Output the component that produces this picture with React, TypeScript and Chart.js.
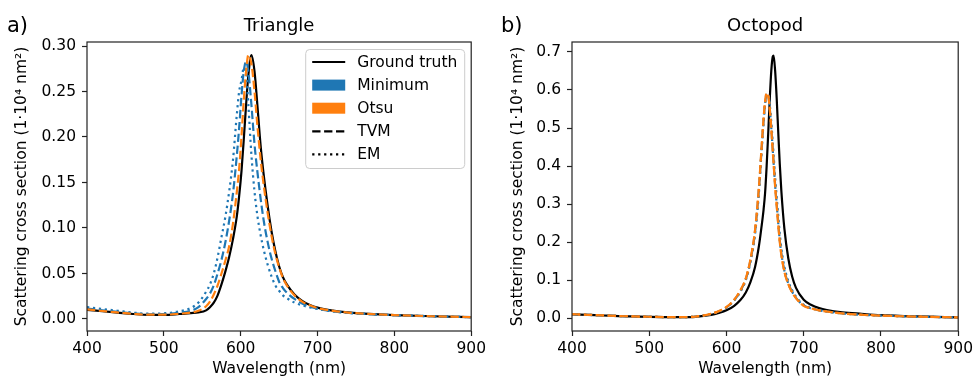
import React, { useEffect, useRef } from 'react';
import Chart from 'chart.js/auto';

// ---------- data ----------
const triWavelength = [400, 420, 440, 460, 480, 500, 520, 535, 545, 555, 560, 565, 570, 575, 580, 585, 590, 595, 598, 601, 604, 607, 610, 614, 618, 622, 626, 630, 635, 640, 645, 650, 655, 660, 670, 680, 690, 700, 720, 740, 760, 780, 800, 850, 900];
const triGroundTruth = [0.010, 0.0085, 0.007, 0.0055, 0.0045, 0.0045, 0.0055, 0.0065, 0.0072, 0.0095, 0.013, 0.018, 0.026, 0.038, 0.052, 0.068, 0.088, 0.113, 0.135, 0.162, 0.197, 0.235, 0.268, 0.29, 0.272, 0.232, 0.19, 0.158, 0.125, 0.097, 0.075, 0.058, 0.046, 0.038, 0.027, 0.02, 0.0155, 0.0125, 0.0092, 0.0072, 0.006, 0.005, 0.0043, 0.003, 0.002];
const triMinimumTVM = [0.0115, 0.0095, 0.0078, 0.0062, 0.0052, 0.0055, 0.007, 0.009, 0.013, 0.022, 0.028, 0.037, 0.05, 0.065, 0.084, 0.108, 0.138, 0.18, 0.21, 0.245, 0.272, 0.283, 0.272, 0.235, 0.192, 0.16, 0.132, 0.108, 0.085, 0.067, 0.053, 0.041, 0.034, 0.029, 0.022, 0.017, 0.0135, 0.0112, 0.0085, 0.0068, 0.0057, 0.0048, 0.0042, 0.003, 0.002];
const triMinimumEM = [0.013, 0.011, 0.009, 0.007, 0.0058, 0.0062, 0.0085, 0.012, 0.018, 0.03, 0.038, 0.05, 0.068, 0.09, 0.112, 0.14, 0.175, 0.225, 0.25, 0.262, 0.276, 0.272, 0.235, 0.18, 0.14, 0.112, 0.092, 0.076, 0.06, 0.047, 0.037, 0.031, 0.026, 0.023, 0.018, 0.015, 0.0128, 0.011, 0.0083, 0.0066, 0.0056, 0.0048, 0.0042, 0.003, 0.002];
const triOtsuTVM = [0.0105, 0.0088, 0.0072, 0.0057, 0.0047, 0.0047, 0.0058, 0.007, 0.009, 0.014, 0.019, 0.027, 0.037, 0.05, 0.064, 0.08, 0.105, 0.14, 0.165, 0.2, 0.24, 0.272, 0.29, 0.28, 0.25, 0.21, 0.175, 0.147, 0.117, 0.092, 0.072, 0.057, 0.045, 0.037, 0.026, 0.019, 0.015, 0.012, 0.009, 0.007, 0.0059, 0.005, 0.0043, 0.003, 0.002];

const octWavelength = [400, 420, 440, 460, 480, 500, 520, 540, 560, 580, 590, 600, 610, 618, 625, 631, 637, 642, 645, 648, 650, 652, 654, 656, 658, 660, 661, 663, 665, 667, 669, 671, 675, 680, 685, 690, 700, 710, 720, 730, 750, 775, 800, 850, 900];
const octGroundTruth = [0.0105, 0.009, 0.0075, 0.006, 0.005, 0.004, 0.0033, 0.003, 0.004, 0.009, 0.014, 0.021, 0.033, 0.048, 0.068, 0.095, 0.135, 0.19, 0.235, 0.285, 0.33, 0.40, 0.485, 0.575, 0.65, 0.688, 0.69, 0.65, 0.578, 0.49, 0.405, 0.336, 0.235, 0.158, 0.11, 0.08, 0.049, 0.035, 0.027, 0.022, 0.016, 0.012, 0.0086, 0.005, 0.0026];
const octMinimumTVM = [0.011, 0.0094, 0.0078, 0.0063, 0.0052, 0.0042, 0.0034, 0.0031, 0.0047, 0.0115, 0.0185, 0.029, 0.048, 0.072, 0.103, 0.152, 0.228, 0.34, 0.43, 0.518, 0.565, 0.588, 0.585, 0.553, 0.5, 0.44, 0.41, 0.35, 0.3, 0.25, 0.205, 0.171, 0.125, 0.092, 0.07, 0.054, 0.034, 0.026, 0.021, 0.018, 0.013, 0.0095, 0.0072, 0.0045, 0.0025];
const octMinimumEM = [0.0108, 0.0092, 0.0077, 0.0062, 0.0051, 0.0041, 0.0034, 0.0031, 0.0046, 0.011, 0.018, 0.028, 0.047, 0.07, 0.1, 0.148, 0.222, 0.33, 0.425, 0.515, 0.565, 0.59, 0.588, 0.562, 0.515, 0.46, 0.43, 0.37, 0.318, 0.27, 0.222, 0.185, 0.135, 0.098, 0.074, 0.057, 0.036, 0.027, 0.022, 0.018, 0.013, 0.0097, 0.0073, 0.0046, 0.0025];
const octOtsuTVM = [0.011, 0.0094, 0.0078, 0.0063, 0.0052, 0.0042, 0.0034, 0.0031, 0.0048, 0.012, 0.019, 0.03, 0.049, 0.074, 0.105, 0.155, 0.233, 0.345, 0.436, 0.525, 0.57, 0.592, 0.585, 0.55, 0.497, 0.436, 0.406, 0.345, 0.295, 0.245, 0.2, 0.167, 0.122, 0.09, 0.068, 0.053, 0.033, 0.026, 0.021, 0.018, 0.013, 0.0095, 0.0072, 0.0045, 0.0025];
const octOtsuEM = [0.0108, 0.0093, 0.0077, 0.0062, 0.0051, 0.0041, 0.0034, 0.0031, 0.0047, 0.0118, 0.0188, 0.0295, 0.0485, 0.073, 0.104, 0.153, 0.23, 0.34, 0.432, 0.522, 0.568, 0.59, 0.586, 0.553, 0.5, 0.44, 0.41, 0.35, 0.3, 0.25, 0.204, 0.17, 0.124, 0.091, 0.069, 0.054, 0.0335, 0.026, 0.021, 0.018, 0.013, 0.0095, 0.0072, 0.0045, 0.0025];

const xTicks = [400, 500, 600, 700, 800, 900];
const triYTicks = [0, 0.05, 0.1, 0.15, 0.2, 0.25, 0.3];
const octYTicks = [0, 0.1, 0.2, 0.3, 0.4, 0.5, 0.6, 0.7];

const legendLabels = ['Ground truth', 'Minimum', 'Otsu', 'TVM', 'EM'];

// ---------- style ----------
const BLUE = '#1f77b4';
const ORANGE = '#ff7f0e';
const FONT = "'DejaVu Sans', 'Noto Sans', sans-serif";
const FS = 15.5;
const SOLID: number[] = [];
const DASH = [8.3, 3.6];
const DOT = [2.25, 3.7];
const LW = 2.2;

type Series = { label: string; data: number[]; color: string; dash: number[]; order: number };

type PanelCfg = {
  title: string;
  letter: string;
  letterX: number;
  wavelength: number[];
  series: Series[];
  yMin: number;
  yMax: number;
  yTicks: number[];
  decimals: number;
  yAxisWidth: number;
  yTitlePad: number;
  padRight: number;
  legend: boolean;
  canvasWidth: number;
};

const framePlugin = {
  id: 'frame',
  afterDatasetsDraw(chart: any) {
    const { left, top, right, bottom } = chart.chartArea;
    const ctx = chart.ctx;
    ctx.save();
    ctx.strokeStyle = '#222';
    ctx.lineWidth = 1.2;
    ctx.strokeRect(left, top, right - left, bottom - top);
    ctx.restore();
  },
};

function makeTitlePlugin(cfg: PanelCfg) {
  return {
    id: 'panelTitle',
    afterDraw(chart: any) {
      const { left, right } = chart.chartArea;
      const ctx = chart.ctx;
      ctx.save();
      ctx.fillStyle = '#000';
      ctx.textBaseline = 'alphabetic';
      ctx.textAlign = 'center';
      ctx.font = `18px ${FONT}`;
      ctx.fillText(cfg.title, (left + right) / 2, 31);
      ctx.textAlign = 'left';
      ctx.font = `21px ${FONT}`;
      ctx.fillText(cfg.letter, cfg.letterX, 31.5);
      ctx.restore();
    },
  };
}

const legendPlugin = {
  id: 'customLegend',
  afterDraw(chart: any) {
    const { right, top } = chart.chartArea;
    const ctx = chart.ctx;
    const w = 159;
    const h = 119;
    const x0 = right - 7 - w;
    const y0 = top + 7;
    ctx.save();
    ctx.beginPath();
    ctx.roundRect(x0 + 0.5, y0 + 0.5, w, h, 4);
    ctx.fillStyle = 'rgba(255,255,255,0.8)';
    ctx.fill();
    ctx.strokeStyle = '#cccccc';
    ctx.lineWidth = 1;
    ctx.stroke();

    const hx0 = x0 + 7;
    const hx1 = x0 + 40;
    const tx = x0 + 52;
    const step = 23.1;
    const ys = legendLabels.map((_, i) => y0 + 13 + i * step);
    ctx.lineCap = 'butt';
    // Ground truth
    ctx.strokeStyle = '#000';
    ctx.lineWidth = LW;
    ctx.setLineDash(SOLID);
    ctx.beginPath();
    ctx.moveTo(hx0, ys[0]);
    ctx.lineTo(hx1, ys[0]);
    ctx.stroke();
    // patches
    ctx.fillStyle = BLUE;
    ctx.fillRect(hx0, ys[1] - 5.5, hx1 - hx0, 11);
    ctx.fillStyle = ORANGE;
    ctx.fillRect(hx0, ys[2] - 5.5, hx1 - hx0, 11);
    // TVM
    ctx.strokeStyle = '#000';
    ctx.setLineDash(DASH);
    ctx.beginPath();
    ctx.moveTo(hx0, ys[3]);
    ctx.lineTo(hx1, ys[3]);
    ctx.stroke();
    // EM
    ctx.setLineDash(DOT);
    ctx.beginPath();
    ctx.moveTo(hx0, ys[4]);
    ctx.lineTo(hx1, ys[4]);
    ctx.stroke();
    ctx.setLineDash([]);

    ctx.fillStyle = '#000';
    ctx.font = `${FS}px ${FONT}`;
    ctx.textBaseline = 'middle';
    ctx.textAlign = 'left';
    legendLabels.forEach((t, i) => ctx.fillText(t, tx, ys[i] + 1));
    ctx.restore();
  },
};

function buildConfig(cfg: PanelCfg): any {
  const datasets = cfg.series.map((s) => ({
    label: s.label,
    data: cfg.wavelength.map((x, i) => ({ x, y: s.data[i] })),
    borderColor: s.color,
    backgroundColor: s.color,
    borderWidth: LW,
    borderDash: s.dash,
    borderCapStyle: 'butt',
    pointRadius: 0,
    fill: false,
    cubicInterpolationMode: 'monotone',
    order: s.order,
  }));
  const plugins: any[] = [framePlugin, makeTitlePlugin(cfg)];
  if (cfg.legend) plugins.push(legendPlugin);
  return {
    type: 'line',
    data: { datasets },
    plugins,
    options: {
      responsive: false,
      animation: false,
      events: [],
      layout: { padding: { left: 0, right: cfg.padRight, top: 42, bottom: 0 } },
      plugins: { legend: { display: false }, title: { display: false }, tooltip: { enabled: false } },
      scales: {
        x: {
          type: 'linear',
          min: 400,
          max: 900,
          afterBuildTicks: (s: any) => {
            s.ticks = xTicks.map((v) => ({ value: v }));
          },
          afterFit: (s: any) => {
            s.height = 47;
          },
          ticks: {
            color: '#000',
            font: { family: FONT, size: FS },
            padding: 4,
            maxRotation: 0,
            autoSkip: false,
            callback: (v: any) => String(v),
          },
          grid: { drawOnChartArea: false, drawTicks: true, tickLength: 5, tickColor: '#222', tickWidth: 1.2 },
          border: { display: false },
          title: {
            display: true,
            text: 'Wavelength (nm)',
            color: '#000',
            font: { family: FONT, size: FS },
            padding: { top: 0, bottom: 0 },
          },
        },
        y: {
          type: 'linear',
          min: cfg.yMin,
          max: cfg.yMax,
          afterBuildTicks: (s: any) => {
            s.ticks = cfg.yTicks.map((v) => ({ value: v }));
          },
          afterFit: (s: any) => {
            s.width = cfg.yAxisWidth;
          },
          ticks: {
            color: '#000',
            font: { family: FONT, size: FS },
            padding: 6,
            autoSkip: false,
            callback: (v: any) => Number(v).toFixed(cfg.decimals),
          },
          grid: { drawOnChartArea: false, drawTicks: true, tickLength: 5, tickColor: '#222', tickWidth: 1.2 },
          border: { display: false },
          title: {
            display: true,
            text: 'Scattering cross section (1·10⁴ nm²)',
            color: '#000',
            font: { family: FONT, size: FS },
            padding: { top: cfg.yTitlePad, bottom: 0 },
          },
        },
      },
    },
  };
}

const triangleCfg: PanelCfg = {
  title: 'Triangle',
  letter: 'a)',
  letterX: 7,
  wavelength: triWavelength,
  series: [
    { label: 'Ground truth', data: triGroundTruth, color: '#000', dash: SOLID, order: 10 },
    { label: 'Minimum TVM', data: triMinimumTVM, color: BLUE, dash: DASH, order: 9 },
    { label: 'Minimum EM', data: triMinimumEM, color: BLUE, dash: DOT, order: 8 },
    { label: 'Otsu TVM', data: triOtsuTVM, color: ORANGE, dash: DASH, order: 7 },
  ],
  yMin: -0.0132,
  yMax: 0.3044,
  yTicks: triYTicks,
  decimals: 2,
  yAxisWidth: 87,
  yTitlePad: 13,
  padRight: 15,
  legend: true,
  canvasWidth: 490,
};

const octopodCfg: PanelCfg = {
  title: 'Octopod',
  letter: 'b)',
  letterX: 11,
  wavelength: octWavelength,
  series: [
    { label: 'Ground truth', data: octGroundTruth, color: '#000', dash: SOLID, order: 10 },
    { label: 'Minimum TVM', data: octMinimumTVM, color: BLUE, dash: DASH, order: 9 },
    { label: 'Minimum EM', data: octMinimumEM, color: BLUE, dash: DOT, order: 8 },
    { label: 'Otsu TVM', data: octOtsuTVM, color: ORANGE, dash: DASH, order: 7 },
    { label: 'Otsu EM', data: octOtsuEM, color: ORANGE, dash: DOT, order: 6 },
  ],
  yMin: -0.0332,
  yMax: 0.7259,
  yTicks: octYTicks,
  decimals: 1,
  yAxisWidth: 82,
  yTitlePad: 19,
  padRight: 16,
  legend: false,
  canvasWidth: 487,
};

function Panel({ cfg, left }: { cfg: PanelCfg; left: number }) {
  const ref = useRef<HTMLCanvasElement | null>(null);
  useEffect(() => {
    if (!ref.current) return;
    const chart = new Chart(ref.current, buildConfig(cfg));
    return () => chart.destroy();
  }, [cfg]);
  return (
    <canvas
      ref={ref}
      width={cfg.canvasWidth}
      height={378}
      style={{ position: 'absolute', left, top: 0, width: cfg.canvasWidth, height: 378 }}
    />
  );
}

export default function App() {
  return (
    <div style={{ position: 'fixed', left: 0, top: 0, width: 977, height: 378, background: '#fff', overflow: 'hidden' }}>
      <Panel cfg={triangleCfg} left={0} />
      <Panel cfg={octopodCfg} left={490} />
    </div>
  );
}
